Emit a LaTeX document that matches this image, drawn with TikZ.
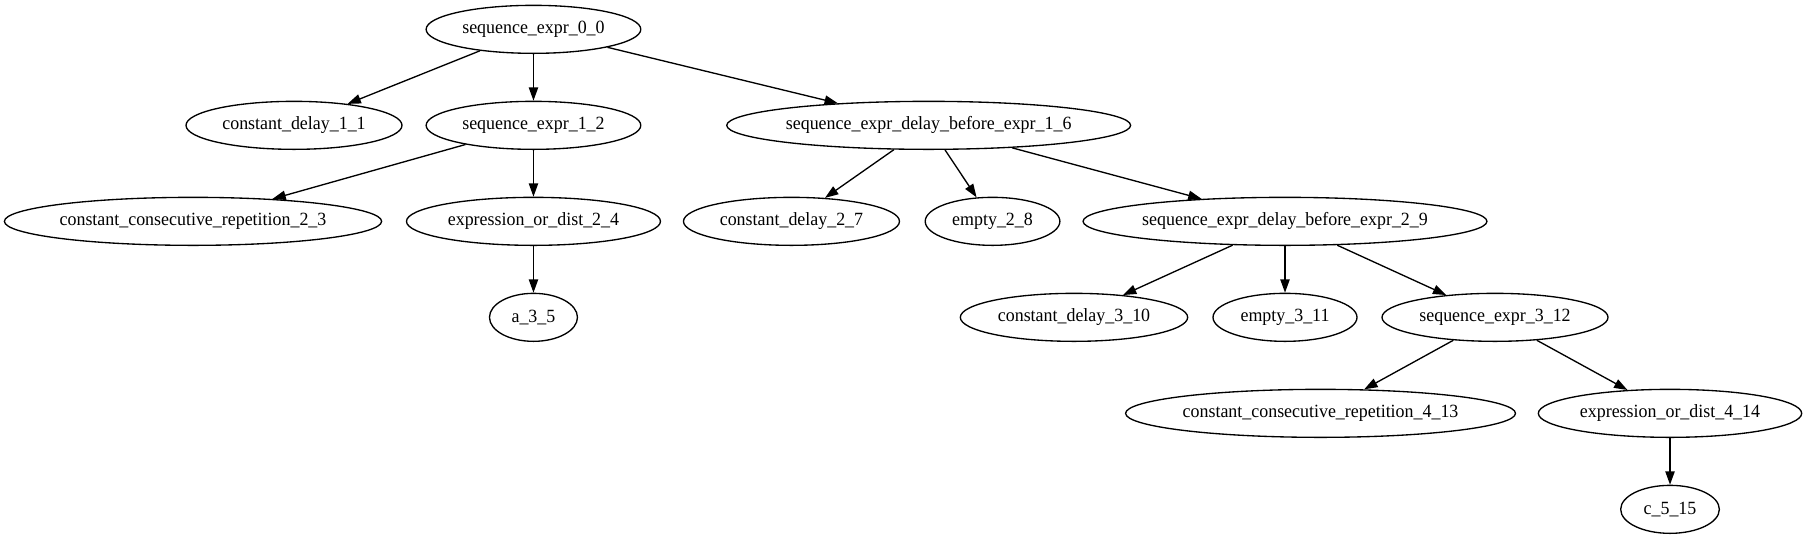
\documentclass[tikz,border=0pt]{standalone}
\usepackage{fontspec}
\setmainfont[FakeStretch=0.96]{Liberation Serif}
\usetikzlibrary{arrows.meta,shapes.geometric}
\tikzset{
  gnode/.style={ellipse, draw, line width=1bp, inner sep=0pt, minimum height=36bp,
    font=\fontsize{14bp}{16bp}\selectfont},
  gedge/.style={line width=1bp, -{Triangle[length=10bp,width=7bp]}}
}
\begin{document}
\begin{tikzpicture}[x=1bp,y=-1bp]
\useasboundingbox (0,0) rectangle (1355.25,404.25);
% rank 0
\node[gnode, minimum width=161bp] (n00) at (400.1,22) {sequence\_expr\_0\_0};
% rank 1
\node[gnode, minimum width=162bp] (n11) at (220.5,94) {constant\_delay\_1\_1};
\node[gnode, minimum width=161bp] (n12) at (400.1,94) {sequence\_expr\_1\_2};
\node[gnode, minimum width=301.5bp] (n16) at (696.5,94) {sequence\_expr\_delay\_before\_expr\_1\_6};
% rank 2
\node[gnode, minimum width=282.75bp] (n23) at (144.75,166) {constant\_consecutive\_repetition\_2\_3};
\node[gnode, minimum width=190.5bp] (n24) at (400.1,166) {expression\_or\_dist\_2\_4};
\node[gnode, minimum width=162bp] (n27) at (593.6,166) {constant\_delay\_2\_7};
\node[gnode, minimum width=101bp] (n28) at (744.4,166) {empty\_2\_8};
\node[gnode, minimum width=301.5bp] (n29) at (963.75,166) {sequence\_expr\_delay\_before\_expr\_2\_9};
% rank 3
\node[gnode, minimum width=66bp] (n35) at (400.1,238) {a\_3\_5};
\node[gnode, minimum width=170.5bp] (n310) at (805.5,238) {constant\_delay\_3\_10};
\node[gnode, minimum width=108bp] (n311) at (963.75,238) {empty\_3\_11};
\node[gnode, minimum width=169.5bp] (n312) at (1121.25,238) {sequence\_expr\_3\_12};
% rank 4
\node[gnode, minimum width=291bp] (n413) at (990.4,310) {constant\_consecutive\_repetition\_4\_13};
\node[gnode, minimum width=197.5bp] (n414) at (1252.5,310) {expression\_or\_dist\_4\_14};
% rank 5
\node[gnode, minimum width=74bp] (n515) at (1252.5,382) {c\_5\_15};
% edges
\draw[gedge] (n00) -- (n11);
\draw[gedge] (n00) -- (n12);
\draw[gedge] (n00) -- (n16);
\draw[gedge] (n12) -- (n23);
\draw[gedge] (n12) -- (n24);
\draw[gedge] (n24) -- (n35);
\draw[gedge] (n16) -- (n27);
\draw[gedge] (n16) -- (n28);
\draw[gedge] (n16) -- (n29);
\draw[gedge] (n29) -- (n310);
\draw[gedge] (n29) -- (n311);
\draw[gedge] (n29) -- (n312);
\draw[gedge] (n312) -- (n413);
\draw[gedge] (n312) -- (n414);
\draw[gedge] (n414) -- (n515);
\end{tikzpicture}
\end{document}
